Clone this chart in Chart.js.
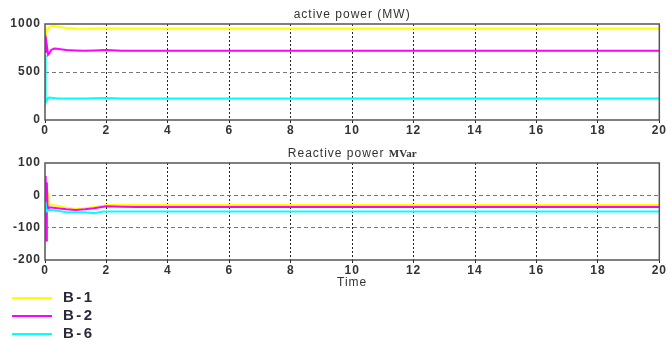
<!DOCTYPE html>
<html><head><meta charset="utf-8">
<script src="https://cdn.jsdelivr.net/npm/chart.js@4/dist/chart.umd.min.js"></script>
<style>
html,body{margin:0;padding:0;background:#fff;width:667px;height:342px;overflow:hidden;}
#c1{position:absolute;left:0;top:0;}
#c2{position:absolute;left:0;top:140px;}
.leg{position:absolute;left:12px;font:bold 15px "Liberation Sans",Arial,sans-serif;color:#2a2a3a;letter-spacing:2.5px;}
.leg span{display:inline-block;width:40px;height:2px;vertical-align:middle;margin-right:11px;}
</style></head><body>
<canvas id="c1" width="667" height="140"></canvas>
<canvas id="c2" width="667" height="150"></canvas>
<div class="leg" style="top:288px"><span style="background:#ffff00"></span>B-1</div>
<div class="leg" style="top:306px"><span style="background:#ff00ff"></span>B-2</div>
<div class="leg" style="top:324px"><span style="background:#00ffff"></span>B-6</div>
<script>
const seriesNames = ["B-1", "B-2", "B-6"];
const seriesColors = ["#ffff00", "#ff00ff", "#00ffff"];
const activeTime = [0, 0.02, 0.05, 0.1, 0.15, 0.2, 0.3, 0.4, 0.5, 0.7, 1.0, 1.3, 1.6, 2.0, 2.5, 3, 20];
const activeB1 = [880, 960, 910, 950, 970, 978, 980, 975, 968, 958, 952, 950, 952, 955, 953, 953, 953];
const activeB2 = [880, 700, 800, 680, 700, 730, 745, 742, 738, 730, 725, 722, 725, 728, 722, 722, 722];
const activeB6 = [680, 180, 200, 230, 235, 232, 228, 226, 225, 224, 223, 224, 226, 230, 225, 225, 225];
const reactTime = [0, 0.02, 0.04, 0.06, 0.08, 0.1, 0.15, 0.2, 0.4, 0.7, 1.0, 1.3, 1.6, 1.9, 2.0, 2.5, 3, 20];
const reactB1 = [-40, -130, 20, -20, -30, 0, -30, -30, -32, -38, -42, -40, -36, -32, -30, -30, -30, -30];
const reactB2 = [-40, 60, -140, 40, -30, -40, -38, -38, -40, -43, -45, -43, -40, -35, -34, -35, -36, -36];
const reactB6 = [-40, -20, -50, -45, -48, -45, -45, -45, -48, -52, -52, -52, -55, -50, -50, -50, -50, -50];
const xTicks = [0, 2, 4, 6, 8, 10, 12, 14, 16, 18, 20];
const activeTicks = [0, 500, 1000];
const reactTicks = [-200, -100, 0, 100];

const tickFont = {family: "'Liberation Sans', Arial, sans-serif", size: 12, weight: 'bold'};

function mk(t, arrs) {
  return arrs.map((a, i) => ({
    label: seriesNames[i],
    data: t.map((x, j) => ({x: x, y: a[j]})),
    borderColor: seriesColors[i],
    backgroundColor: seriesColors[i],
    borderWidth: 2,
    pointRadius: 0,
    tension: 0
  })).reverse();
}

const spacingPlugin = {
  id: 'spacing',
  beforeUpdate(chart) { chart.ctx.letterSpacing = '1px'; },
  beforeDraw(chart) { chart.ctx.letterSpacing = '1px'; }
};

const framePlugin = {
  id: 'frame',
  afterDraw(chart) {
    const a = chart.chartArea, c = chart.ctx;
    c.save();
    c.strokeStyle = '#555';
    c.lineWidth = 1.5;
    c.strokeRect(a.left, a.top, a.right - a.left, a.bottom - a.top);
    c.restore();
  }
};

function titlePlugin(parts) {
  return {
    id: 'ttl',
    afterDraw(chart) {
      const a = chart.chartArea, c = chart.ctx;
      c.save();
      let total = 0;
      parts.forEach(p => { c.font = p.font; c.letterSpacing = p.ls; total += c.measureText(p.text).width; });
      let x = (a.left + a.right) / 2 - total / 2;
      c.fillStyle = '#333';
      c.textBaseline = 'alphabetic';
      c.textAlign = 'left';
      parts.forEach(p => { c.font = p.font; c.letterSpacing = p.ls; c.fillText(p.text, x, p.y); x += c.measureText(p.text).width; });
      c.restore();
    }
  };
}

function makeOptions(ymin, ymax, yticks, showTime, xh) {
  return {
    responsive: false, animation: false,
    layout: {padding: {left: 0, right: 7, top: 24, bottom: 0}},
    plugins: {legend: {display: false}, tooltip: {enabled: false}},
    scales: {
      x: {
        type: 'linear', min: 0, max: 20,
        afterBuildTicks: s => { s.ticks = xTicks.map(v => ({value: v})); },
        afterFit: s => { s.height = xh; },
        ticks: {font: tickFont, color: '#333', padding: 0, maxRotation: 0, callback: v => String(v)},
        grid: {
          color: ctx => (ctx.tick && (ctx.tick.value === 0 || ctx.tick.value === 20)) ? 'rgba(0,0,0,0)' : '#222',
          lineWidth: 1, drawTicks: true, tickLength: 3, tickColor: '#222'
        },
        border: {display: false, dash: [2, 2]},
        title: showTime ? {display: true, text: 'Time', font: {family: "'Liberation Sans', Arial, sans-serif", size: 12}, color: '#333', padding: {top: 1, bottom: 0}} : {display: false}
      },
      y: {
        min: ymin, max: ymax,
        afterBuildTicks: s => { s.ticks = yticks.map(v => ({value: v})); },
        afterFit: s => { s.width = 45; },
        ticks: {font: tickFont, color: '#333', padding: 4, callback: v => String(v)},
        grid: {
          color: ctx => (ctx.tick && (ctx.tick.value === ymin || ctx.tick.value === ymax)) ? 'rgba(0,0,0,0)' : '#777',
          lineWidth: 1, drawTicks: false
        },
        border: {display: false, dash: [4, 3]}
      }
    }
  };
}

const o1 = makeOptions(0, 1000, activeTicks, false, 20);
const o2 = makeOptions(-200, 100, reactTicks, true, 30);
o2.layout.padding.top = 23;

new Chart(document.getElementById('c1'), {
  type: 'line',
  data: {datasets: mk(activeTime, [activeB1, activeB2, activeB6])},
  options: o1,
  plugins: [spacingPlugin, framePlugin, titlePlugin([{text: 'active power (MW)', font: "12px 'Liberation Sans', Arial, sans-serif", ls: '1px', y: 18}])]
});
new Chart(document.getElementById('c2'), {
  type: 'line',
  data: {datasets: mk(reactTime, [reactB1, reactB2, reactB6])},
  options: o2,
  plugins: [spacingPlugin, framePlugin, titlePlugin([
    {text: 'Reactive power ', font: "12px 'Liberation Sans', Arial, sans-serif", ls: '1px', y: 17},
    {text: 'MVar', font: "bold 11px 'Liberation Serif', 'Times New Roman', serif", ls: '0px', y: 17}
  ])]
});
</script>
</body></html>
